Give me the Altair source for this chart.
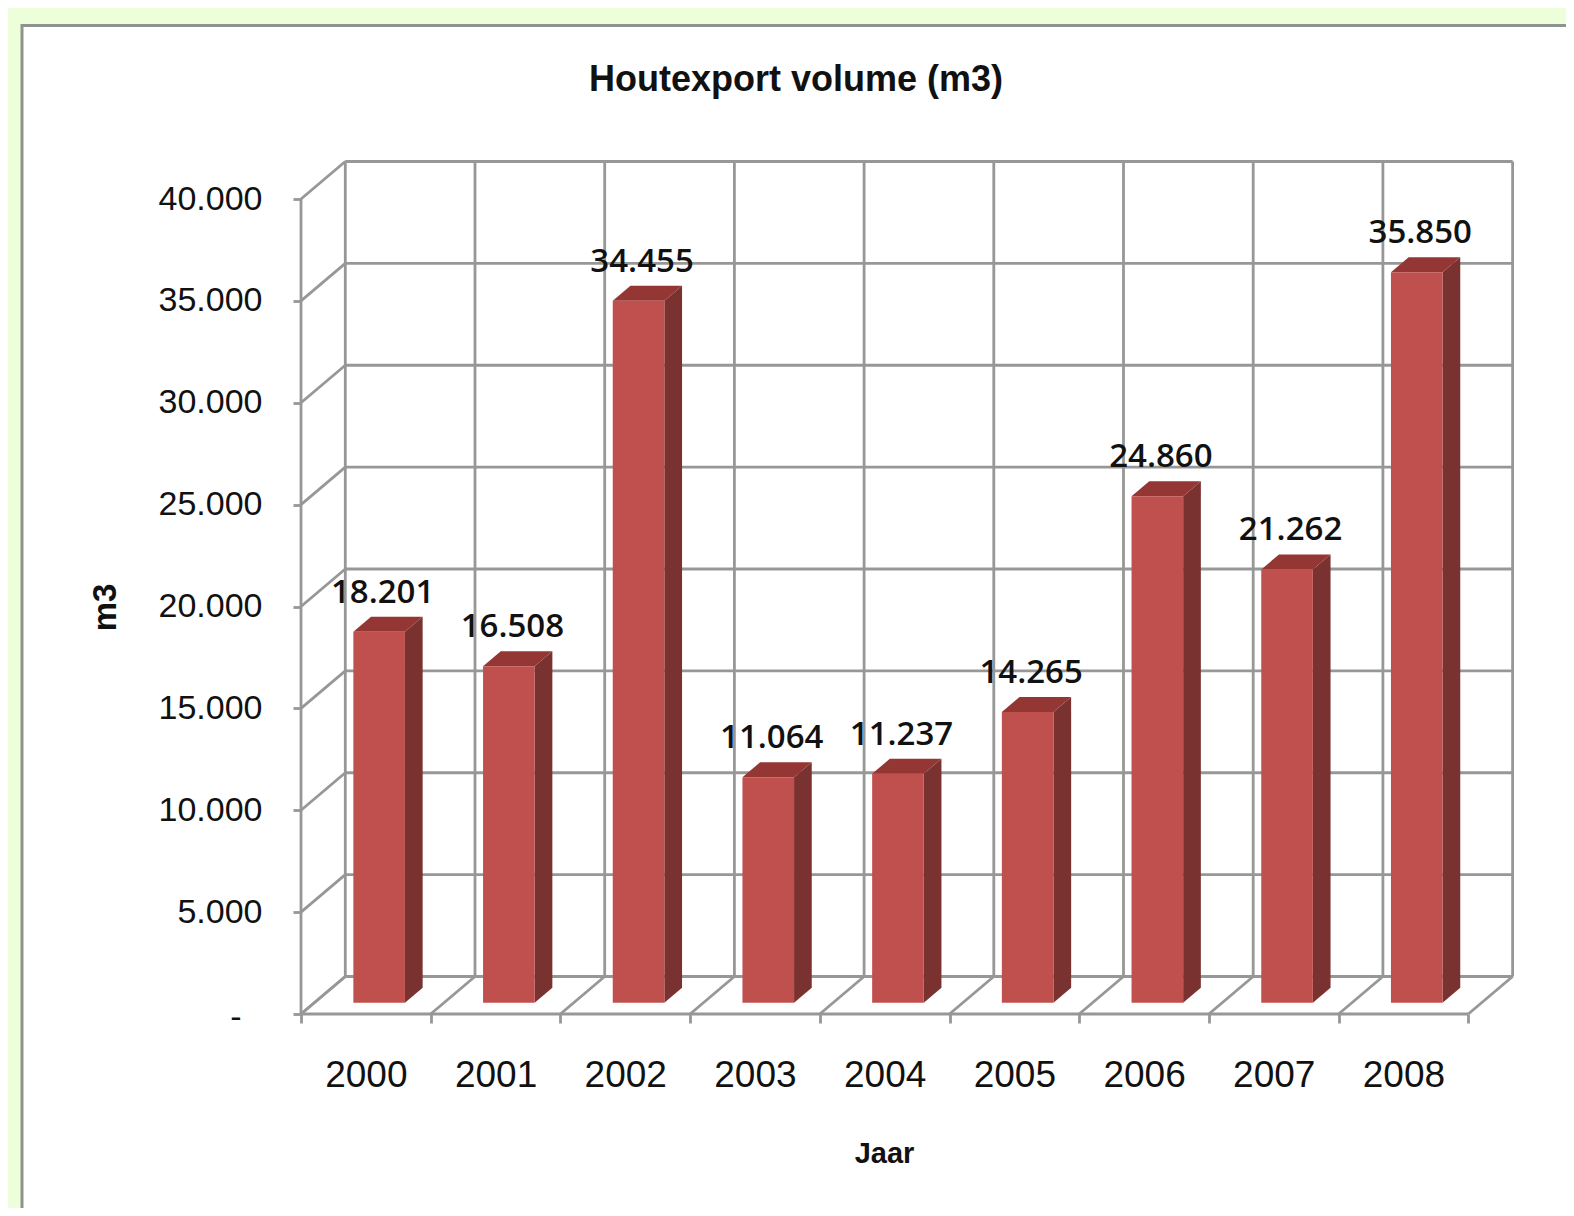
import json
import altair as alt
import pandas as pd

years = ["2000", "2001", "2002", "2003", "2004", "2005", "2006", "2007", "2008"]
values = [18201, 16508, 34455, 11064, 11237, 14265, 24860, 21262, 35850]
y_ticks = [0, 5000, 10000, 15000, 20000, 25000, 30000, 35000, 40000]

GREY = "#979797"
INK = "#111111"
PX_X = 129.7        # pixels per category
PX_Y = 815 / 40000  # pixels per m3
W, H = 1212, 851
X_DOM = [0, W / PX_X]
Y_DOM = [0, H / PX_Y]
WALL_X, WALL_Y = 44.3 / PX_X, 37.5 / PX_Y      # depth of the box
GAP_X, GAP_Y = 13.3 / PX_X, 11.3 / PX_Y        # bar plane behind the front edge
BAR_W = 51.6 / PX_X
SIDE_X, SIDE_Y = 17.7 / PX_X, 15.0 / PX_Y      # depth of a bar

xs = alt.Scale(domain=X_DOM, nice=False, zero=False)
ys = alt.Scale(domain=Y_DOM, nice=False, zero=False)
n = len(years)

# Box lines
lines = []
for i in range(n + 1):
    lines.append(dict(x=i + WALL_X, x2=i + WALL_X, y=WALL_Y, y2=40000 + WALL_Y))
    lines.append(dict(x=i, x2=i + WALL_X, y=0, y2=WALL_Y))
for v in y_ticks:
    lines.append(dict(x=WALL_X, x2=n + WALL_X, y=v + WALL_Y, y2=v + WALL_Y))
    lines.append(dict(x=0, x2=WALL_X, y=v, y2=v + WALL_Y))
lines.append(dict(x=0, x2=0, y=0, y2=40000))
lines.append(dict(x=0, x2=n, y=0, y2=0))

front, side, top, labels = [], [], [], []
for i, (yr, v) in enumerate(zip(years, values)):
    xl = i + GAP_X + (1 - BAR_W) / 2
    xr = xl + BAR_W
    yt = v + GAP_Y
    front.append(dict(x=xl, x2=xr, y=GAP_Y, y2=yt))
    side.append(dict(year=yr, x=xr, y=GAP_Y, y2=yt))
    side.append(dict(year=yr, x=xr + SIDE_X, y=GAP_Y + SIDE_Y, y2=yt + SIDE_Y))
    top.append(dict(year=yr, y=yt, x=xl, x2=xr))
    top.append(dict(year=yr, y=yt + SIDE_Y, x=xl + SIDE_X, x2=xr + SIDE_X))
    labels.append(dict(x=(xl + xr) / 2 + 3.5 / PX_X, y=yt + SIDE_Y,
                       label=f"{v:,}".replace(",", ".")))

x_axis = alt.Axis(
    values=list(range(n + 1)),
    labelExpr=f"{json.dumps(years)}[datum.value] || ''",
    labelOffset=PX_X / 2, labelFontSize=37, labelColor=INK,
    labelFont="Liberation Sans", labelPadding=34, labelOverlap=False,
    labelFlush=False, labelBound=False, grid=False, domain=False,
    tickColor=GREY, tickWidth=2.8, tickSize=9, title="Jaar", zindex=1,
    titleFont="Liberation Sans", titleFontSize=29, titleFontWeight="bold",
    titleColor=INK, titleX=583, titleY=1152 - 1013,
    titleBaseline="middle", titleAlign="center")
y_axis = alt.Axis(
    values=y_ticks,
    labelExpr="datum.value == 0 ? '-' : replace(format(datum.value, ','), ',', '.')",
    labelFontSize=34, labelColor=INK, labelFont="Liberation Sans",
    labelPadding={"condition": {"test": "datum.value == 0", "value": 52}, "value": 31},
    labelOffset={"condition": {"test": "datum.value == 0", "value": 3}, "value": 0},
    labelOverlap=False, labelBound=False, labelFlush=False,
    grid=False, domain=False, tickColor=GREY, tickWidth=2.8, tickSize=8, zindex=1,
    title="m3", titleFont="Liberation Sans", titleFontSize=33,
    titleFontWeight="bold", titleColor=INK, titleX=105 - 301,
    titleY=605 - 161, titleBaseline="middle", titleAlign="center",
    titleAngle=270)

X = lambda **k: alt.X("x:Q", scale=xs, axis=x_axis, **k)
Y = lambda **k: alt.Y("y:Q", scale=ys, axis=y_axis, stack=None, **k)

panel = alt.Chart(pd.DataFrame({"a": [0]})).mark_rect(
    fill="white", stroke="#8F938D", strokeWidth=3
).encode(x=alt.value(22 - 301), x2=alt.value(1573 - 301),
         y=alt.value(23.5 - 161), y2=alt.value(1240 - 161))

grid = alt.Chart(pd.DataFrame(lines)).mark_rule(color=GREY, strokeWidth=2.8).encode(
    x=X(), x2="x2:Q", y=Y(), y2="y2:Q")

front_l = alt.Chart(pd.DataFrame(front)).mark_rect(color="#C0504D").encode(
    x=X(), x2="x2:Q", y=Y(), y2="y2:Q")

side_l = alt.Chart(pd.DataFrame(side)).mark_area(color="#7A3230", orient="vertical").encode(
    x=X(), y=Y(), y2="y2:Q", detail="year:N")

top_l = alt.Chart(pd.DataFrame(top)).mark_area(color="#943634", orient="horizontal").encode(
    y=Y(), x=X(stack=None), x2="x2:Q", detail="year:N")

text_l = alt.Chart(pd.DataFrame(labels)).mark_text(
    font="Open Sans", fontSize=33, fontWeight=600, color=INK,
    baseline="middle", align="center", yOffset=-24
).encode(x=X(), y=Y(), text="label:N")

chart = alt.layer(panel, grid, side_l, top_l, front_l, text_l).properties(
    width=W, height=H,
    background="#EDFEDB",
    padding={"left": 293, "top": 155, "right": 1558 - 293 - W, "bottom": 1200 - 155 - H},
    autosize=alt.AutoSizeParams(type="none"),
    title=alt.TitleParams(
        "Houtexport volume (m3)", font="Liberation Sans", fontSize=36,
        fontWeight="bold", color=INK, anchor="middle", dx=-111, dy=75, offset=0),
).configure_view(stroke=None)

chart.save("out.html", embed_options={"renderer": "svg", "actions": False})
